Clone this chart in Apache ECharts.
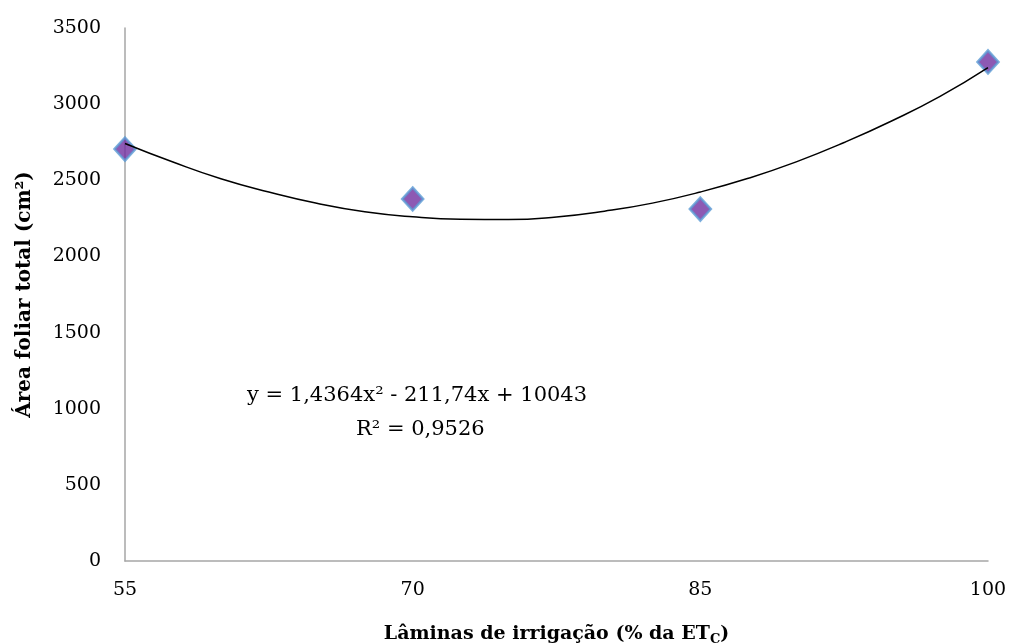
<!DOCTYPE html>
<html>
<head>
<meta charset="utf-8">
<script src="https://cdn.jsdelivr.net/npm/echarts@6/dist/echarts.min.js"></script>
<style>
  html, body { margin: 0; padding: 0; background: #fff; }
  #chart { width: 1011px; height: 644px; }
</style>
</head>
<body>
<div id="chart"></div>
<script>
// lâminas de irrigação (% da ETc)
const laminas = [55, 70, 85, 100]
// área foliar total observada (cm²)
const areaFoliar = [2705, 2377, 2311, 3277]
// curva de tendência
const trendX = [55, 57.5, 60, 62.5, 65, 67.5, 70, 72.5, 75, 77.5, 80, 82.5, 85, 87.5, 90, 92.5, 95, 97.5, 100]
const trendY = [2742, 2620, 2510, 2423, 2349, 2293, 2260, 2244, 2242, 2259, 2297, 2350, 2423, 2513, 2621, 2748, 2891, 3051, 3240]
// rótulos do eixo y
const yTicks = [0, 500, 1000, 1500, 2000, 2500, 3000, 3500]

const equacao = 'y = 1,4364x² - 211,74x + 10043'
const r2 = 'R² = 0,9526'

const font = 'DejaVu Serif'
const chart = echarts.init(document.getElementById('chart'))

chart.setOption({
  animation: false,
  textStyle: { fontFamily: font },
  grid: { left: 125, right: 23, top: 28, bottom: 83, outerBoundsMode: 'none', containLabel: false },
  xAxis: {
    type: 'value',
    min: laminas[0],
    max: laminas[laminas.length - 1],
    name: 'Lâminas de irrigação (% da ET{sub|C})',
    nameLocation: 'middle',
    nameGap: 62,
    nameTextStyle: {
      fontFamily: font, fontSize: 19, fontWeight: 'bold', color: '#000',
      rich: {
        sub: { fontFamily: font, fontSize: 13, fontWeight: 'bold', color: '#000', verticalAlign: 'bottom', padding: [10, 0, 0, 0] }
      }
    },
    axisLine: { lineStyle: { color: '#a6a6a6', width: 1.5 } },
    axisTick: { show: false },
    splitLine: { show: false },
    axisLabel: {
      customValues: laminas,
      formatter: v => String(v),
      margin: 20,
      fontFamily: font, fontSize: 19, color: '#000'
    }
  },
  yAxis: {
    type: 'value',
    min: 0,
    max: 3500,
    interval: 500,
    name: 'Área foliar total (cm²)',
    nameLocation: 'middle',
    nameGap: 90,
    nameTextStyle: { fontFamily: font, fontSize: 20, fontWeight: 'bold', color: '#000' },
    axisLine: { show: true, lineStyle: { color: '#a6a6a6', width: 1.5 } },
    axisTick: { show: false },
    splitLine: { show: false },
    axisLabel: {
      customValues: yTicks,
      formatter: v => String(v),
      margin: 24,
      fontFamily: font, fontSize: 19, color: '#000'
    }
  },
  graphic: [
    {
      type: 'text', left: 247, top: 385,
      style: { text: equacao, font: '21px "DejaVu Serif"', fill: '#000' }
    },
    {
      type: 'text', left: 356, top: 419,
      style: { text: r2, font: '21px "DejaVu Serif"', fill: '#000' }
    }
  ],
  series: [
    {
      type: 'line',
      data: trendX.map((x, i) => [x, trendY[i]]),
      smooth: true,
      showSymbol: false,
      lineStyle: { color: '#000', width: 1.5 },
      z: 3
    },
    {
      type: 'scatter',
      data: laminas.map((x, i) => [x, areaFoliar[i]]),
      symbol: 'diamond',
      symbolSize: [21, 23],
      itemStyle: { color: '#7030a0', borderColor: '#5b9bd5', borderWidth: 2.5 },
      z: 2
    }
  ]
})
</script>
</body>
</html>
